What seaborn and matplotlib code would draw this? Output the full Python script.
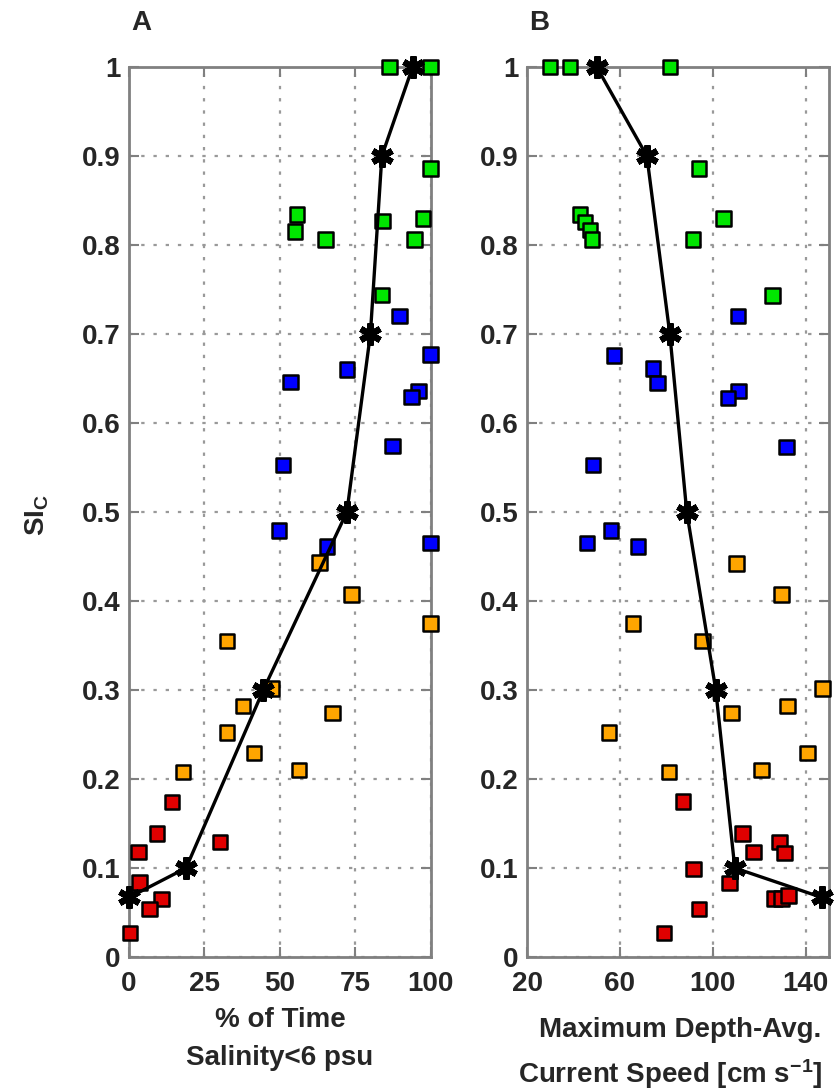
# SI_C vs salinity exposure and current speed, two panels

import numpy as np
import pandas as pd
import matplotlib
matplotlib.use("Agg")
import matplotlib.pyplot as plt
import seaborn as sns

# Panel A : % of time salinity < 6 psu
a_green_x = [86.4, 100, 100, 55.6, 55.0, 65.2, 84.0, 97.4, 94.7, 83.8]
a_green_y = [1.0, 1.0, 0.886, 0.834, 0.815, 0.806, 0.827, 0.830, 0.806, 0.744]
a_blue_x = [89.7, 100, 72.2, 53.6, 96.0, 93.7, 87.4, 51.0, 49.7, 65.6, 100]
a_blue_y = [0.720, 0.677, 0.660, 0.646, 0.636, 0.629, 0.574, 0.553, 0.479, 0.461, 0.465]
a_orange_x = [63.2, 73.8, 100, 32.5, 47.4, 37.8, 67.5, 32.5, 41.4, 17.9, 56.3]
a_orange_y = [0.443, 0.407, 0.375, 0.355, 0.302, 0.282, 0.274, 0.252, 0.229, 0.208, 0.210]
a_red_x = [14.2, 9.2, 3.1, 30.1, 3.4, 10.8, 6.7, 0.3]
a_red_y = [0.174, 0.139, 0.118, 0.129, 0.084, 0.065, 0.054, 0.027]
a_star_x = [0, 18.9, 44.5, 72.2, 80.0, 83.8, 94.0]

# Panel B : maximum depth-averaged current speed
b_green_x = [29.9, 38.5, 81.5, 94.0, 42.8, 44.9, 47.1, 48.0, 104.7, 91.4, 125.8]
b_green_y = [1.0, 1.0, 1.0, 0.886, 0.834, 0.826, 0.817, 0.806, 0.830, 0.806, 0.743]
b_blue_x = [110.8, 57.4, 74.2, 76.3, 111.2, 106.5, 131.8, 48.4, 56.1, 45.8, 67.7]
b_blue_y = [0.720, 0.676, 0.661, 0.645, 0.636, 0.628, 0.573, 0.553, 0.479, 0.465, 0.461]
b_orange_x = [110.3, 129.7, 65.6, 95.7, 147.3, 132.3, 108.2, 55.3, 140.9, 81.1, 121.1]
b_orange_y = [0.442, 0.407, 0.375, 0.355, 0.302, 0.282, 0.274, 0.252, 0.229, 0.208, 0.210]
b_red_x = [87.1, 112.9, 117.6, 128.8, 131.0, 91.8, 107.3, 126.7, 129.7, 132.7, 94.0, 78.9]
b_red_y = [0.175, 0.139, 0.118, 0.129, 0.117, 0.099, 0.083, 0.066, 0.066, 0.069, 0.054, 0.027]
b_star_x = [146.9, 109.5, 101.3, 88.8, 81.5, 71.6, 50.0]

star_y = [0.067, 0.1, 0.3, 0.5, 0.7, 0.9, 1.0]

groupes = ["vert", "bleu", "orange", "rouge"]
couleurs = {"vert": "#00e600", "bleu": "#0000ff", "orange": "#ffa500", "rouge": "#e00000"}


def tableau(gx, gy, bx, by, ox, oy, rx, ry):
    morceaux = []
    for nom, xs, ys in zip(groupes, [gx, bx, ox, rx], [gy, by, oy, ry]):
        morceaux.append(pd.DataFrame({"x": xs, "y": ys, "groupe": nom}))
    return pd.concat(morceaux, ignore_index=True)


df_a = tableau(a_green_x, a_green_y, a_blue_x, a_blue_y, a_orange_x, a_orange_y, a_red_x, a_red_y)
df_b = tableau(b_green_x, b_green_y, b_blue_x, b_blue_y, b_orange_x, b_orange_y, b_red_x, b_red_y)

sns.set_theme(style="white")
plt.rcParams['font.family'] = ['Liberation Sans', 'DejaVu Sans']
plt.rcParams['font.weight'] = 'bold'
plt.rcParams['mathtext.fontset'] = 'custom'
plt.rcParams['mathtext.bf'] = 'Liberation Sans:bold'
plt.rcParams['mathtext.rm'] = 'Liberation Sans:bold'
plt.rcParams['mathtext.default'] = 'bf'

taille = 20
gris = '#808080'

fig = plt.figure(figsize=(8.38, 10.89), dpi=100)
ax_a = fig.add_axes([0.154, 0.1212, 0.360, 0.8173])
ax_b = fig.add_axes([0.629, 0.1212, 0.360, 0.8173])

for ax, df, sx, xlim, xticks in [(ax_a, df_a, a_star_x, (0, 100), [0, 25, 50, 75, 100]),
                                 (ax_b, df_b, b_star_x, (20, 150), [20, 60, 100, 140])]:
    sns.scatterplot(data=df, x="x", y="y", hue="groupe", palette=couleurs, marker="s",
                    s=110, edgecolor="black", linewidth=1.8, legend=False,
                    clip_on=False, zorder=3, ax=ax)
    sns.lineplot(x=sx, y=star_y, sort=False, color="black", linewidth=2.4,
                 marker=(6, 2, 0), markersize=16, markeredgewidth=4.5,
                 markeredgecolor="black", clip_on=False, zorder=4, ax=ax)
    ax.set_xlim(*xlim)
    ax.set_ylim(0, 1)
    ax.set_xticks(xticks)
    ax.set_yticks(np.arange(0, 1.01, 0.1))
    ax.set_yticklabels(["0"] + ["0.%d" % i for i in range(1, 10)] + ["1"])
    ax.grid(True, linestyle=(0, (1.5, 4)), color='#999999', linewidth=1.6)
    for sp in ax.spines.values():
        sp.set_color(gris)
        sp.set_linewidth(2)
    ax.tick_params(direction='in', length=7, width=1.5, color=gris, labelsize=taille,
                   top=True, right=True, left=True, bottom=True)
    ax.tick_params(axis='x', pad=10)
    ax.tick_params(axis='y', pad=6)
    ax.set_xlabel("")
    ax.set_ylabel("")

fig.text(141 / 838, 1 - 23 / 1089, "A", fontsize=taille, fontweight='bold', ha='center', va='center')
fig.text(539 / 838, 1 - 23 / 1089, "B", fontsize=taille, fontweight='bold', ha='center', va='center')

fig.text(0.045, 0.527, "SI$_C$", fontsize=taille, rotation=90, ha='center', va='center')

fig.text(280 / 838, 1 - 1020 / 1089, "% of Time", fontsize=taille, ha='center', va='center')
fig.text(280 / 838, 1 - 1058 / 1089, "Salinity<6 psu", fontsize=taille, ha='center', va='center')
fig.text(680 / 838, 1 - 1030 / 1089, "Maximum Depth-Avg.", fontsize=taille, ha='center', va='center')
fig.text(670 / 838, 1 - 1074 / 1089, "Current Speed [cm s$^{-1}$]", fontsize=taille,
         ha='center', va='center')

plt.savefig("out.png", dpi=100)
